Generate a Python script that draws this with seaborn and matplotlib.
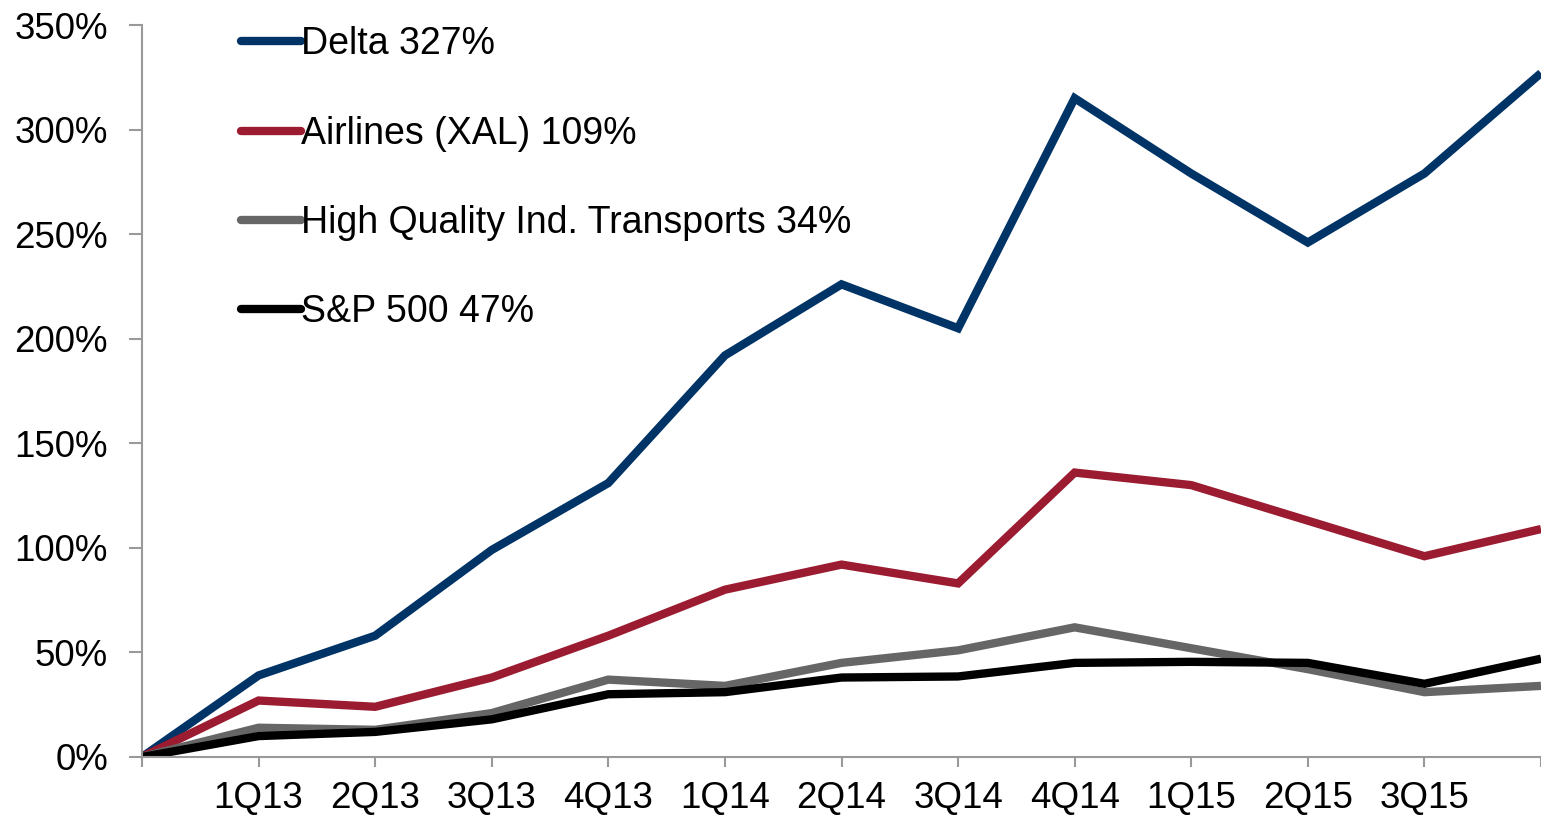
import matplotlib
matplotlib.use("Agg")
import matplotlib.pyplot as plt
import seaborn as sns
import pandas as pd

# quarter-end points (first and last left unlabeled on the axis)
quarters = ['4Q12', '1Q13', '2Q13', '3Q13', '4Q13', '1Q14', '2Q14',
            '3Q14', '4Q14', '1Q15', '2Q15', '3Q15', '4Q15']
tick_labels = ['', '1Q13', '2Q13', '3Q13', '4Q13', '1Q14', '2Q14',
               '3Q14', '4Q14', '1Q15', '2Q15', '3Q15', '']

delta = [0, 39, 58, 99, 131, 192, 226, 205, 315, 279, 246, 279, 327]
airlines = [0, 27, 24, 38, 58, 80, 92, 83, 136, 130, 113, 96, 109]
transports = [0, 14, 13, 21, 37, 34, 45, 51, 62, 52, 42, 31, 34]
sp500 = [0, 10, 12, 18, 30, 31, 38, 38.5, 45, 45.5, 45, 35, 47]

series_names = ['Delta 327%', 'Airlines (XAL) 109%',
                'High Quality Ind. Transports 34%', 'S&P 500 47%']
colors = ['#003366', '#9b1b30', '#666666', '#000000']

rows = []
for name, vals in zip(series_names, [delta, airlines, transports, sp500]):
    for i, v in enumerate(vals):
        rows.append({'x': i, 'quarter': quarters[i], 'value': v, 'series': name})
df = pd.DataFrame(rows)

sns.set_style('white')
plt.rcParams['font.family'] = ['Liberation Sans', 'DejaVu Sans']
plt.rcParams['text.color'] = 'black'

fig = plt.figure(figsize=(15.41, 8.17), dpi=100)
ax = fig.add_axes([142 / 1541, 60 / 817, 1 - 142 / 1541, 732 / 817])

sns.lineplot(data=df, x='x', y='value', hue='series', hue_order=series_names,
             palette=colors, linewidth=6, ax=ax, legend=True,
             solid_capstyle='butt', solid_joinstyle='miter')

ax.set_xlim(0, 12)
ax.set_ylim(0, 350)
ax.set_xticks(range(len(quarters)))
ax.set_xticklabels(tick_labels)
ax.set_yticks(range(0, 351, 50))
ax.set_yticklabels([f'{v}%' for v in range(0, 351, 50)])
ax.set_xlabel('')
ax.set_ylabel('')

for side in ['top', 'right']:
    ax.spines[side].set_visible(False)
for side in ['left', 'bottom']:
    ax.spines[side].set_color('#999999')
    ax.spines[side].set_linewidth(1.5)

ax.tick_params(axis='both', which='major', width=1.5,
               color='#999999', labelsize=26.5, labelcolor='black')
ax.tick_params(axis='x', length=7, pad=10, bottom=True)
ax.tick_params(axis='y', length=9.5, pad=15, left=True)

leg = ax.legend(loc='upper left', bbox_to_anchor=(0.071, 0.998), frameon=False,
                fontsize=27, handlelength=1.6, handletextpad=0.0,
                labelspacing=1.42, borderpad=0, borderaxespad=0,
                labelcolor='black')
for line in leg.get_lines():
    line.set_linewidth(6)
    line.set_solid_capstyle('round')

fig.savefig('out.png', dpi=100)
